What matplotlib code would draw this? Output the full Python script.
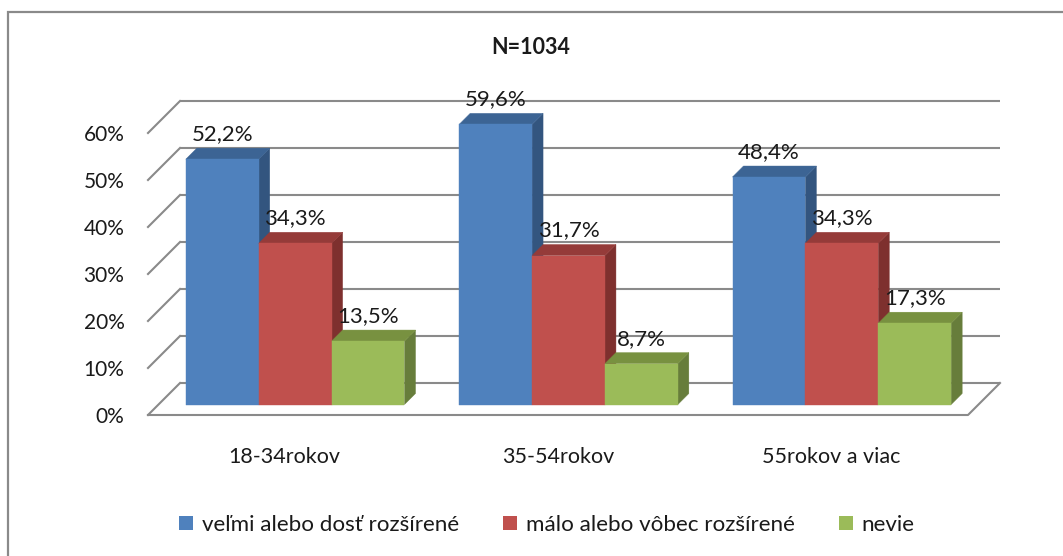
import matplotlib
matplotlib.use('Agg')
import matplotlib.pyplot as plt
import matplotlib.transforms as mtransforms
from matplotlib.patches import Polygon, Rectangle
from matplotlib.lines import Line2D

# ---------------- data ----------------
title = 'N=1034'
categories = ['18-34rokov', '35-54rokov', '55rokov a viac']
series_names = ['veľmi alebo dosť rozšírené', 'málo alebo vôbec rozšírené', 'nevie']
values_velmi = [52.2, 59.6, 48.4]
values_malo = [34.3, 31.7, 34.3]
values_nevie = [13.5, 8.7, 17.3]
yticks = [0, 10, 20, 30, 40, 50, 60]
ytick_labels = ['0%', '10%', '20%', '30%', '40%', '50%', '60%']

series_values = [values_velmi, values_malo, values_nevie]
front_colors = ['#4F81BD', '#C0504D', '#9BBB59']
top_colors = ['#3C6494', '#953B39', '#789140']
side_colors = ['#33557F', '#7E302E', '#677D3B']
grid_color = '#8A8A8A'
FONT = ['Lato', 'DejaVu Sans']
plt.rcParams['font.family'] = FONT

W, H, DPI = 1063, 556, 100
fig = plt.figure(figsize=(W / DPI, H / DPI), dpi=DPI)
fig.patch.set_facecolor('white')

# front plane of the 3D box
ax = fig.add_axes([148 / W, (H - 415) / H, 820 / W, (415 - 133) / H])
ax.set_xlim(0, 3)
ax.set_ylim(0, 60)
for s in ax.spines.values():
    s.set_visible(False)
ax.patch.set_visible(False)

WALL = 32.0   # depth of box (px)
BF = 10.5     # bar front depth (px)
BD = 11.0     # bar depth (px)


def off(px):
    return mtransforms.ScaledTranslation(px / DPI, px / DPI, fig.dpi_scale_trans)


def p3(x, y, d):
    px, py = ax.transData.transform((x, y))
    return (px + d, py + d)


ident = mtransforms.IdentityTransform()

# gridlines on back wall + left wall diagonals
for t in yticks:
    ax.plot([0, 3], [t, t], transform=ax.transData + off(WALL), color=grid_color,
            lw=1.5, clip_on=False, zorder=1, solid_capstyle='butt')
    a, b = p3(0, t, 0), p3(0, t, WALL)
    ax.add_line(Line2D([a[0], b[0]], [a[1], b[1]], transform=ident, color=grid_color,
                       lw=1.5, clip_on=False, zorder=1))
# floor front edge and right edge
a, b, c = p3(0, 0, 0), p3(3, 0, 0), p3(3, 0, WALL)
ax.add_line(Line2D([a[0], b[0], c[0]], [a[1], b[1], c[1]], transform=ident,
                   color=grid_color, lw=1.5, clip_on=False, zorder=1))

# bars
n = len(series_values)
group_w = 0.8
bw = group_w / n
xcat = [i + 0.5 for i in range(len(categories))]
for j, vals in enumerate(series_values):
    xs = [xc - group_w / 2 + bw * (j + 0.5) for xc in xcat]
    bars = ax.bar(xs, vals, width=bw, color=front_colors[j], edgecolor=front_colors[j],
                  lw=0.3, label=series_names[j])
    for i, (bar, v, xc) in enumerate(zip(bars, vals, xs)):
        base = 2 + (i * n + j) * 3
        bar.set_transform(ax.transData + off(BF))
        bar.set_clip_on(False)
        bar.set_zorder(base + 2)
        x0, x1 = xc - bw / 2, xc + bw / 2
        side = Polygon([p3(x1, 0, BF), p3(x1, 0, BF + BD), p3(x1, v, BF + BD), p3(x1, v, BF)],
                       closed=True, transform=ident, facecolor=side_colors[j],
                       edgecolor=side_colors[j], lw=0.3, clip_on=False, zorder=base)
        top = Polygon([p3(x0, v, BF), p3(x1, v, BF), p3(x1, v, BF + BD), p3(x0, v, BF + BD)],
                      closed=True, transform=ident, facecolor=top_colors[j],
                      edgecolor=top_colors[j], lw=0.3, clip_on=False, zorder=base + 1)
        ax.add_patch(side)
        ax.add_patch(top)
        lab = f'{v:.1f}'.replace('.', ',') + '%'
        ax.annotate(lab, xy=(xc, v), xycoords=ax.transData + off(BF),
                    xytext=(0, 18), textcoords='offset points', ha='center', va='center',
                    fontsize=16, color='#1A1A1A', zorder=100, annotation_clip=False)

ax.set_yticks(yticks)
ax.set_yticklabels(ytick_labels)
ax.set_xticks(xcat)
ax.set_xticklabels(categories)
ax.tick_params(axis='y', length=0, pad=17, labelsize=15, labelcolor='#1A1A1A')
ax.tick_params(axis='x', length=0, pad=23, labelsize=15.5, labelcolor='#1A1A1A')

fig.text(531 / W, 1 - 47 / H, title, ha='center', va='center', fontsize=15.5,
         fontweight='bold', color='#1A1A1A')

handles = [Rectangle((0, 0), 1, 1, facecolor=c, edgecolor='none') for c in front_colors]
fig.legend(handles, series_names, loc='center', bbox_to_anchor=(547 / W, 1 - 525 / H),
           ncol=3, frameon=False, fontsize=16.1, handlelength=0.6, handleheight=0.6,
           handletextpad=0.4, columnspacing=2.0, labelcolor='#1A1A1A')

# outer chart border (extends beyond right/bottom edges)
fig.patches.append(Rectangle((7.5 / W, -0.1), 1.2, 1.1 - 12 / H, transform=fig.transFigure,
                             fill=False, edgecolor='#8A8A8A', lw=1.6, zorder=0))

fig.savefig('out.png', dpi=DPI)
